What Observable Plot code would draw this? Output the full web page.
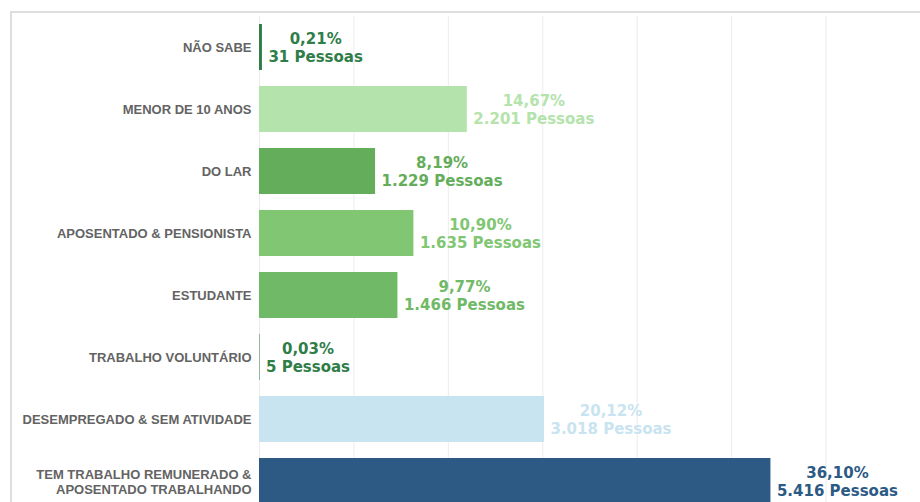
<!DOCTYPE html>
<html>
<head>
<meta charset="utf-8">
<script src="https://cdn.jsdelivr.net/npm/d3@7"></script>
<script src="https://cdn.jsdelivr.net/npm/@observablehq/plot@0.6"></script>
<style>
  html, body { margin: 0; padding: 0; background: #fff; }
  #wrap { position: relative; width: 920px; height: 502px; overflow: hidden; }
  #border { position: absolute; left: 10px; top: 11px; right: -5px; bottom: -5px;
            border-top: 2px solid #dedede; border-left: 2px solid #dedede; pointer-events: none; }
</style>
</head>
<body>
<div id="wrap"><div id="border"></div></div>
<script>
const categorias = [
  "NÃO SABE",
  "MENOR DE 10 ANOS",
  "DO LAR",
  "APOSENTADO & PENSIONISTA",
  "ESTUDANTE",
  "TRABALHO VOLUNTÁRIO",
  "DESEMPREGADO & SEM ATIVIDADE",
  "TEM TRABALHO REMUNERADO &\nAPOSENTADO TRABALHANDO"
];
const pessoas = [31, 2201, 1229, 1635, 1466, 5, 3018, 5416];
const percentuais = [0.21, 14.67, 8.19, 10.90, 9.77, 0.03, 20.12, 36.10];
const cores = ["#2f7d47", "#b4e3ac", "#64ad5b", "#80c673", "#70b966", "#2f7d47", "#c9e4f1", "#2c5a85"];
const gridTicks = [0, 1000, 2000, 3000, 4000, 5000, 6000];

const fmtPct = v => v.toFixed(2).replace(".", ",") + "%";
const fmtNum = v => d3.format(",")(v).replace(/,/g, ".");

const data = categorias.map((c, i) => ({
  cat: c,
  n: pessoas[i],
  cor: cores[i],
  rotulo: fmtPct(percentuais[i]) + "\n" + fmtNum(pessoas[i]) + " Pessoas"
}));

const labelFont = "bold 15px 'DejaVu Sans', Verdana, sans-serif";
const ctx = document.createElement("canvas").getContext("2d");
ctx.font = labelFont;
const larguras = data.map(d => Math.max(...d.rotulo.split("\n").map(s => ctx.measureText(s).width)));

const chart = Plot.plot({
  width: 920,
  height: 502,
  marginLeft: 259,
  marginRight: 0,
  marginTop: 16,
  marginBottom: 0,
  x: { domain: [0, 7000], axis: null },
  y: { domain: categorias, range: [16, 512], paddingInner: 0.26, paddingOuter: 0.13, label: null },
  style: { background: "transparent", overflow: "visible" },
  marks: [
    Plot.ruleX(gridTicks, { stroke: "#ececec", strokeWidth: 1 }),
    Plot.barX(data, { x: "n", y: "cat", fill: "cor" }),
    Plot.text(data, {
      x: "n", y: "cat", text: "rotulo", fill: "cor",
      textAnchor: "middle", lineHeight: 1.15,
      fontFamily: "'DejaVu Sans', Verdana, sans-serif", fontWeight: "bold", fontSize: 15,
      render(index, scales, values, dimensions, context, next) {
        const X = Array.from(values.x, (x, i) => x + 6 + larguras[i] / 2);
        return next(index, scales, { ...values, x: X }, dimensions, context);
      }
    }),
    Plot.axisY({
      tickSize: 0, tickPadding: 8, label: null,
      fontFamily: "'Liberation Sans', Arial, sans-serif", fontWeight: "bold", fontSize: 13,
      fill: "#636363", lineHeight: 1.15
    })
  ]
});
document.getElementById("wrap").insertBefore(chart, document.getElementById("border"));
</script>
</body>
</html>
